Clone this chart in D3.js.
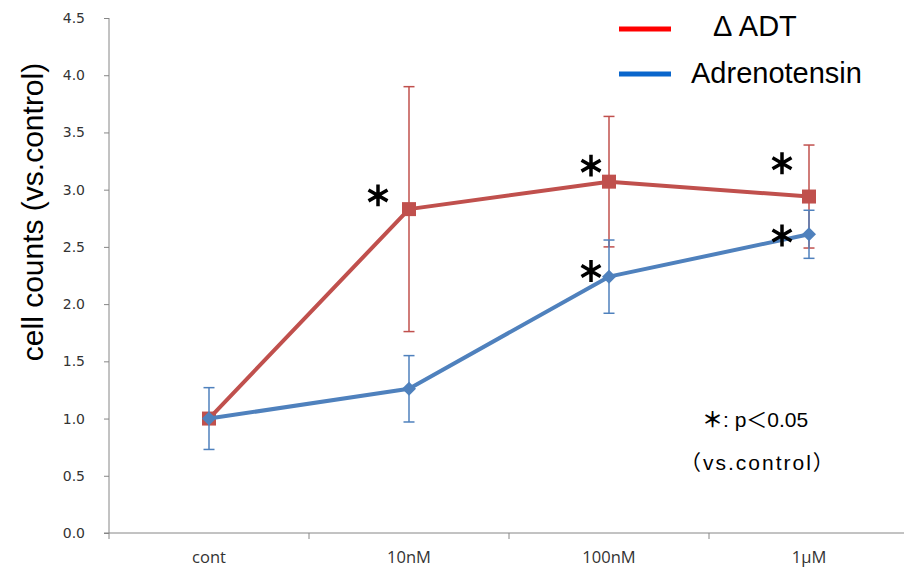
<!DOCTYPE html>
<html>
<head>
<meta charset="utf-8">
<script src="https://cdn.jsdelivr.net/npm/d3@7"></script>
<style>
  body { margin: 0; background: #fff; }
  svg { display: block; }
</style>
</head>
<body>
<svg width="904" height="568"></svg>
<script>
// doses on the x axis
var categories = ["cont", "10nM", "100nM", "1\u03bcM"];

// mean cell counts (vs. control) and error bar half-widths
var adtMean = [1.0, 2.83, 3.07, 2.94];
var adtErr = [0.0, 1.07, 0.57, 0.45];
var atsMean = [1.0, 1.26, 2.24, 2.61];
var atsErr = [0.27, 0.29, 0.32, 0.21];

var yTicks = [0, 0.5, 1.0, 1.5, 2.0, 2.5, 3.0, 3.5, 4.0, 4.5];

// significance stars: category, value height of the star, pixel shift left
var stars = [
    { cat: "10nM", v: 2.95, dx: -31 },
    { cat: "100nM", v: 3.21, dx: -18 },
    { cat: "1\u03bcM", v: 3.23, dx: -27 },
    { cat: "100nM", v: 2.29, dx: -18 },
    { cat: "1\u03bcM", v: 2.60, dx: -27 }
];

var legendNames = ["\u0394 ADT", "Adrenotensin"];

var svg = d3.select("svg");

// plot box (note: "top" is taken by window.top)
var mLeft = 109, mRight = 909, mTop = 18, mBottom = 533;

var x = d3.scaleBand().domain(categories).range([mLeft, mRight]);
var y = d3.scaleLinear().domain([0, 4.5]).range([mBottom, mTop]);

var axisColor = "#868686";
var red = "#c0504d", blue = "#4f81bd";

// y axis
var yAxis = svg.append("g")
    .attr("transform", "translate(" + mLeft + ",0)")
    .call(d3.axisLeft(y).tickValues(yTicks).tickSize(5).tickPadding(19)
        .tickFormat(d3.format(".1f")));
yAxis.select(".domain").attr("stroke", axisColor).attr("d", "M0," + mTop + "V" + mBottom);
yAxis.selectAll(".tick line").attr("stroke", axisColor);
yAxis.selectAll(".tick text")
    .style("font-family", "'DejaVu Sans', sans-serif")
    .style("font-size", "14px")
    .attr("fill", "#333");

// x axis, ticks sit on the band edges
var xAxis = svg.append("g")
    .attr("transform", "translate(0," + mBottom + ")");
xAxis.append("line")
    .attr("x1", mLeft - 5).attr("x2", mRight)
    .attr("stroke", axisColor);
xAxis.selectAll(".xtick")
    .data(categories)
    .enter().append("line")
    .attr("class", "xtick")
    .attr("x1", function(d) { return x(d); })
    .attr("x2", function(d) { return x(d); })
    .attr("y1", 0).attr("y2", 6)
    .attr("stroke", axisColor);
xAxis.selectAll(".xlabel")
    .data(categories)
    .enter().append("text")
    .attr("class", "xlabel")
    .attr("x", function(d) { return x(d) + x.bandwidth() / 2; })
    .attr("y", 30)
    .attr("text-anchor", "middle")
    .style("font-family", "'Open Sans', sans-serif")
    .style("font-size", "16.5px")
    .attr("fill", "#333")
    .text(function(d) { return d; });

// y title
svg.append("text")
    .attr("transform", "translate(43,212) rotate(-90)")
    .attr("text-anchor", "middle")
    .style("font-family", "'Liberation Sans', Arial, sans-serif")
    .style("font-size", "30px")
    .attr("fill", "#000")
    .text("cell counts (vs.control)");

function cx(i) { return x(categories[i]) + x.bandwidth() / 2; }

function drawSeries(means, errs, color, shape) {
    var g = svg.append("g");
    var pts = means.map(function(m, i) { return { i: i, m: m, e: errs[i] }; });

    // error bars
    var eb = g.selectAll(".eb")
        .data(pts.filter(function(d) { return d.e > 0; }))
        .enter().append("g")
        .attr("stroke", color)
        .attr("stroke-width", 1.5);
    eb.append("line")
        .attr("x1", function(d) { return cx(d.i); })
        .attr("x2", function(d) { return cx(d.i); })
        .attr("y1", function(d) { return y(d.m + d.e); })
        .attr("y2", function(d) { return y(d.m - d.e); });
    [1, -1].forEach(function(s) {
        eb.append("line")
            .attr("x1", function(d) { return cx(d.i) - 5.5; })
            .attr("x2", function(d) { return cx(d.i) + 5.5; })
            .attr("y1", function(d) { return y(d.m + s * d.e); })
            .attr("y2", function(d) { return y(d.m + s * d.e); });
    });

    var line = d3.line()
        .x(function(d) { return cx(d.i); })
        .y(function(d) { return y(d.m); });
    g.append("path")
        .datum(pts)
        .attr("d", line)
        .attr("fill", "none")
        .attr("stroke", color)
        .attr("stroke-width", 4)
        .attr("stroke-linejoin", "round");

    g.selectAll(".pt")
        .data(pts)
        .enter().append("path")
        .attr("transform", function(d) { return "translate(" + cx(d.i) + "," + y(d.m) + ")"; })
        .attr("d", shape === "square"
            ? d3.symbol(d3.symbolSquare, 196)()
            : "M0,-7L7,0L0,7L-7,0Z")
        .attr("fill", color);
}

drawSeries(adtMean, adtErr, red, "square");
drawSeries(atsMean, atsErr, blue, "diamond");

// significance asterisks
svg.selectAll(".star")
    .data(stars)
    .enter().append("path")
    .attr("class", "star")
    .attr("transform", function(d) {
        return "translate(" + (x(d.cat) + x.bandwidth() / 2 + d.dx) + "," + y(d.v) + ")";
    })
    .attr("d", d3.symbol(d3.symbolAsterisk, 340)())
    .attr("fill", "none")
    .attr("stroke", "#000")
    .attr("stroke-width", 3.5);

// legend
var legendColors = ["#ff0000", "#0a66cc"];
var lg = svg.append("g");
legendNames.forEach(function(name, i) {
    var ly = 29 + i * 45;
    lg.append("line")
        .attr("x1", 619).attr("x2", 671)
        .attr("y1", ly).attr("y2", ly)
        .attr("stroke", legendColors[i])
        .attr("stroke-width", 5);
    lg.append("text")
        .attr("x", i === 0 ? 713 : 691)
        .attr("y", ly + 7 + i * 2)
        .style("font-family", "'Liberation Sans', 'Noto Sans CJK JP', sans-serif")
        .style("font-size", "29px")
        .attr("fill", "#000")
        .text(name);
});

// note
var note = svg.append("g")
    .style("font-family", "'Liberation Sans', 'Noto Sans CJK JP', sans-serif")
    .style("font-size", "21px")
    .attr("fill", "#000");
var n1 = note.append("text").attr("x", 702).attr("y", 427);
n1.append("tspan").style("font-weight", "bold").text("\uff0a");
n1.append("tspan").text(": p\uff1c0.05");
note.append("text").attr("x", 680).attr("y", 470)
    .style("letter-spacing", "2px")
    .text("\uff08vs.control\uff09");
</script>
</body>
</html>
